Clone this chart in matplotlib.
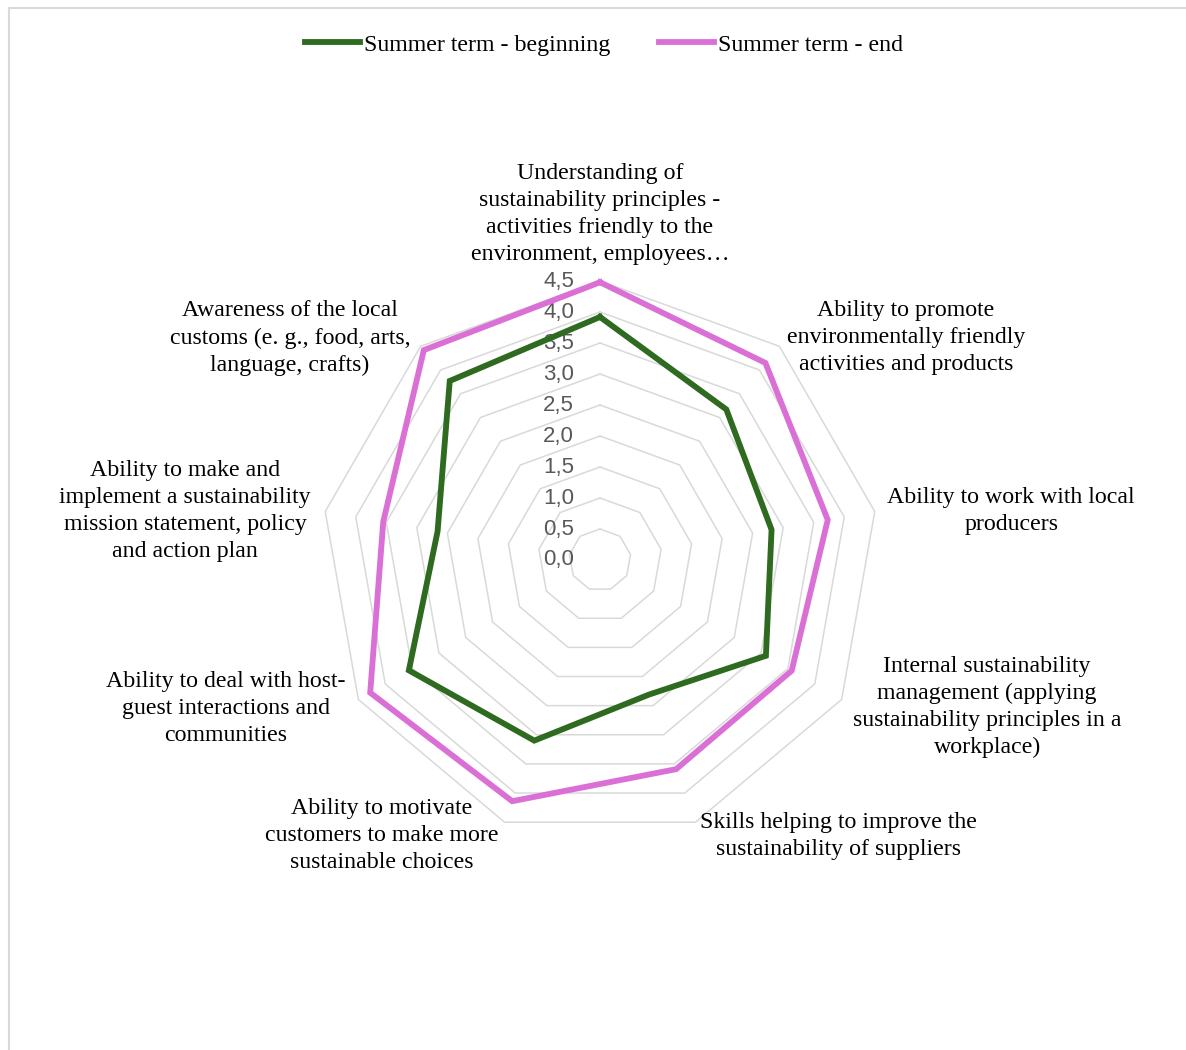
import numpy as np
import matplotlib.pyplot as plt

# Data
categories = [
    "Understanding of\nsustainability principles -\nactivities friendly to the\nenvironment, employees…",
    "Ability to promote\nenvironmentally friendly\nactivities and products",
    "Ability to work with local\nproducers",
    "Internal sustainability\nmanagement (applying\nsustainability principles in a\nworkplace)",
    "Skills helping to improve the\nsustainability of suppliers",
    "Ability to motivate\ncustomers to make more\nsustainable choices",
    "Ability to deal with host-\nguest interactions and\ncommunities",
    "Ability to make and\nimplement a sustainability\nmission statement, policy\nand action plan",
    "Awareness of the local\ncustoms (e. g., food, arts,\nlanguage, crafts)",
]
beginning = [3.92, 3.17, 2.81, 3.09, 2.31, 3.10, 3.56, 2.66, 3.77]
end = [4.48, 4.15, 3.73, 3.57, 3.59, 4.14, 4.28, 3.55, 4.42]
series_names = ["Summer term - beginning", "Summer term - end"]
tick_values = [0.0, 0.5, 1.0, 1.5, 2.0, 2.5, 3.0, 3.5, 4.0, 4.5]
tick_labels = ["0,0", "0,5", "1,0", "1,5", "2,0", "2,5", "3,0", "3,5", "4,0", "4,5"]

# Label placement (center of each text block, polar: angle deg, radius)
label_pos = [
    (90.0, 5.58), (36.0, 6.10), (6.8, 6.68), (-20.8, 6.68), (-49.2, 5.88),
    (-128.3, 5.67), (-158.4, 6.49), (173.3, 6.74), (144.4, 6.15),
]

colors = ["#2E6A1F", "#DA70D6"]
grid_color = "#D9D9D9"

n = len(categories)
angles = np.pi / 2 - np.arange(n) * 2 * np.pi / n
angles_closed = np.append(angles, angles[0])


def to_xy(values):
    v = np.append(values, values[0])
    return v * np.cos(angles_closed), v * np.sin(angles_closed)


W, H = 1186, 1050
scale = 62.0   # pixels per unit
cx, cy = 600, 560

fig = plt.figure(figsize=(W / 100, H / 100), dpi=100)
ax = fig.add_axes([0, 0, 1, 1])
ax.set_xlim(-cx / scale, (W - cx) / scale)
ax.set_ylim(-(H - cy) / scale, cy / scale)
ax.axis("off")

# Chart border (top and left visible)
fig.add_artist(plt.Line2D([9 / W, 1], [1 - 8 / H, 1 - 8 / H],
                          color=grid_color, lw=1.5, transform=fig.transFigure))
fig.add_artist(plt.Line2D([9 / W, 9 / W], [0, 1 - 8 / H],
                          color=grid_color, lw=1.5, transform=fig.transFigure))

# Polygon grid
for r in tick_values[1:]:
    gx, gy = to_xy([r] * n)
    ax.plot(gx, gy, color=grid_color, lw=1.1, zorder=1)

# Tick labels
for r, lab in zip(tick_values, tick_labels):
    ax.text(-26 / scale, r, lab, ha="right", va="center",
            fontsize=16, color="#595959", family="Liberation Sans", zorder=2)

# Series
for vals, c, name in zip([beginning, end], colors, series_names):
    sx, sy = to_xy(vals)
    ax.plot(sx, sy, color=c, lw=4.2, label=name, zorder=3,
            solid_joinstyle="miter")

# Category labels
for lab, (a, r) in zip(categories, label_pos):
    t = np.deg2rad(a)
    ax.text(r * np.cos(t), r * np.sin(t), lab, ha="center", va="center",
            multialignment="center", fontsize=17.2, family="Liberation Serif",
            linespacing=1.37, color="black")

# Legend
leg = fig.legend(loc="center", bbox_to_anchor=(0.5 + 11 / W, 1 - 45 / H),
                 ncol=2, frameon=False, handlelength=2.3, handletextpad=0.2,
                 columnspacing=2.0,
                 prop={"family": "Liberation Serif", "size": 17.2})

fig.savefig("out.png", dpi=100)
